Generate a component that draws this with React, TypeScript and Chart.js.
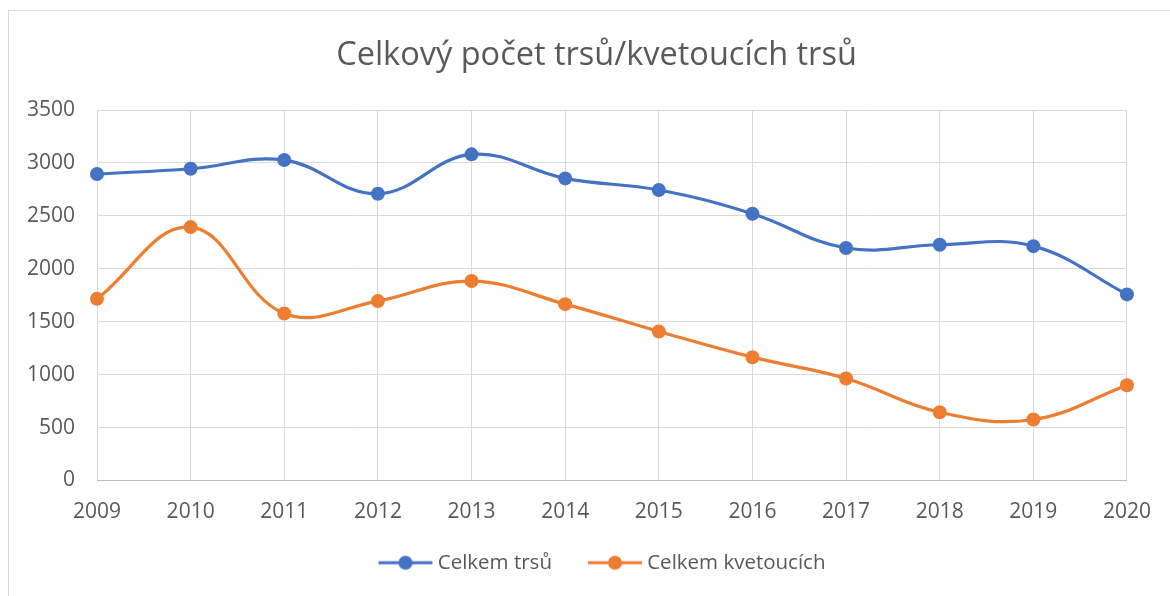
import React, { useEffect, useRef } from "react";
import { Chart, registerables } from "chart.js";

Chart.register(...registerables);

const years = ["2009", "2010", "2011", "2012", "2013", "2014", "2015", "2016", "2017", "2018", "2019", "2020"];
const celkemTrsu = [2895, 2945, 3027, 2709, 3081, 2854, 2744, 2520, 2196, 2227, 2214, 1758];
const celkemKvetoucich = [1716, 2394, 1578, 1695, 1884, 1666, 1408, 1165, 964, 645, 576, 900];
const yMin = 0;
const yMax = 3500;
const yStep = 500;

const titleText = "Celkový počet trsů/kvetoucích trsů";
const seriesNames = ["Celkem trsů", "Celkem kvetoucích"];
const colors = ["#4472C4", "#ED7D31"];
const textColor = "#595959";
const fontFamily = "'Open Sans', 'Noto Sans', sans-serif";

function legendMarker(color: string): HTMLCanvasElement {
  const c = document.createElement("canvas");
  c.width = 72;
  c.height = 16;
  const ctx = c.getContext("2d")!;
  ctx.strokeStyle = color;
  ctx.lineWidth = 3;
  ctx.beginPath();
  ctx.moveTo(17, 8);
  ctx.lineTo(71, 8);
  ctx.stroke();
  ctx.fillStyle = color;
  ctx.beginPath();
  ctx.arc(44, 8, 7, 0, Math.PI * 2);
  ctx.fill();
  return c;
}

const yLabelArea = {
  id: "yLabelArea",
  afterLayout(chart: any) {
    const y = chart.scales.y;
    if (y) y.left = 0;
  },
};

export default function App() {
  const ref = useRef<HTMLCanvasElement>(null);
  useEffect(() => {
    if (!ref.current) return;
    const markers = colors.map(legendMarker);
    const chart = new Chart(ref.current, {
      type: "line",
      plugins: [yLabelArea],
      data: {
        labels: years,
        datasets: [celkemTrsu, celkemKvetoucich].map((d, i) => ({
          label: seriesNames[i],
          data: d,
          borderColor: colors[i],
          backgroundColor: colors[i],
          borderWidth: 3.2,
          pointRadius: 7,
          pointHoverRadius: 7,
          pointBackgroundColor: colors[i],
          pointBorderWidth: 0,
          pointStyle: "circle",
          tension: 0.4,
          cubicInterpolationMode: "default",
        })) as any,
      },
      options: {
        animation: false,
        responsive: false,
        maintainAspectRatio: false,
        layout: { padding: { left: 61, right: 38, top: 0, bottom: 13 } },
        plugins: {
          title: {
            display: true,
            text: titleText,
            color: textColor,
            font: { family: fontFamily, size: 32.5, weight: "normal" },
            padding: { top: 36, bottom: 35 },
          },
          legend: {
            position: "bottom",
            labels: {
              color: textColor,
              font: { family: fontFamily, size: 20.5 },
              usePointStyle: true,
              pointStyleWidth: 60,
              boxHeight: 16,
              padding: 25,
              generateLabels: () =>
                seriesNames.map((n, i) => ({
                  text: n,
                  fillStyle: colors[i],
                  strokeStyle: colors[i],
                  lineWidth: 0,
                  pointStyle: markers[i],
                  datasetIndex: i,
                  hidden: false,
                  fontColor: textColor,
                })) as any,
            },
          },
          tooltip: { enabled: false },
        },
        scales: {
          x: {
            offset: false,
            grid: { color: "#d9d9d9", lineWidth: 1, drawTicks: false },
            border: { display: true, color: "#bfbfbf", width: 1 },
            ticks: {
              color: textColor,
              font: { family: fontFamily, size: 21 },
              padding: 19,
              maxRotation: 0,
              autoSkip: false,
            },
            afterFit: (scale: any) => {
              scale.height = 47;
            },
          },
          y: {
            min: yMin,
            max: yMax,
            grid: { color: "#d9d9d9", lineWidth: 1, drawTicks: false },
            border: { display: false },
            ticks: {
              stepSize: yStep,
              color: textColor,
              font: { family: fontFamily, size: 21 },
              padding: 22,
              callback: (v: any) => String(v),
            },
            afterFit: (scale: any) => {
              scale.width = 36;
            },
          },
        },
      },
    });
    return () => chart.destroy();
  }, []);
  return (
    <div style={{ position: "fixed", left: 0, top: 0, width: 1170, height: 596, background: "#fff" }}>
      <div
        style={{
          position: "absolute",
          left: 8,
          top: 10,
          width: 1170,
          height: 600,
          border: "1px solid #d9d9d9",
          boxSizing: "border-box",
        }}
      />
      <canvas ref={ref} width={1170} height={596} style={{ position: "absolute", left: 0, top: 0 }} />
    </div>
  );
}
